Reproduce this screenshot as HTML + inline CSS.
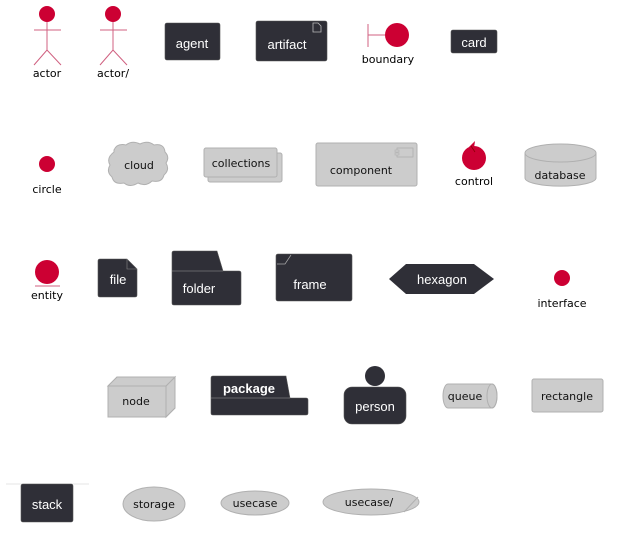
<!DOCTYPE html>
<html><head><meta charset="utf-8"><style>
html,body{margin:0;padding:0;background:#fff;width:619px;height:536px;overflow:hidden}
text{font-family:"DejaVu Sans","Liberation Sans",sans-serif}
.l{font-size:11px;fill:#000;text-anchor:middle}
.w{font-size:13px;fill:#fff;text-anchor:middle;font-family:"Liberation Sans",sans-serif}
.b{font-size:11px;fill:#111;text-anchor:middle}
.d{fill:#2f2f37;stroke:#555;stroke-width:0.6}
.g{fill:#cccccc;stroke:#b0b0b0;stroke-width:1}
.r{fill:#cc0033}
</style></head><body>
<svg width="619" height="536" xmlns="http://www.w3.org/2000/svg">
<!-- actors -->
<g stroke="#d06080" stroke-width="1" fill="none">
<line x1="47" y1="22" x2="47" y2="50"/><line x1="34" y1="30" x2="61" y2="30"/><polyline points="34,65 47,50 61,65"/>
<line x1="113" y1="22" x2="113" y2="50"/><line x1="100" y1="30" x2="127" y2="30"/><polyline points="100,65 113,50 127,65"/>
</g>
<circle class="r" cx="47" cy="14" r="8"/><circle class="r" cx="113" cy="14" r="8"/>
<text class="l" x="47" y="77">actor</text><text class="l" x="113" y="77">actor/</text>
<!-- agent -->
<rect class="d" x="165" y="23" width="55" height="37" rx="2"/><text class="w" x="192" y="48">agent</text>
<!-- artifact -->
<rect class="d" x="256" y="21" width="71" height="40" rx="2"/><text class="w" x="287" y="49">artifact</text>
<path d="M313,23 h5 l3,3 v6 h-8 z" fill="none" stroke="#bbb" stroke-width="0.8"/>
<!-- boundary -->
<line x1="368" y1="24" x2="368" y2="47" stroke="#d06080"/><line x1="368" y1="35" x2="385" y2="35" stroke="#d06080"/>
<circle class="r" cx="397" cy="35" r="12"/><text class="l" x="388" y="63">boundary</text>
<!-- card -->
<rect class="d" x="451" y="30" width="46" height="23" rx="2"/><text class="w" x="474" y="47">card</text>
<!-- circle -->
<circle class="r" cx="47" cy="164" r="8"/><text class="l" x="47" y="193">circle</text>
<!-- cloud -->
<path class="g" d="M114,150 q3,-7 12,-5 q6,-5 14,-1 q8,-4 14,1 q10,-2 11,7 q5,5 1,11 q4,7 -2,12 q-2,8 -12,6 q-6,6 -14,2 q-8,5 -14,0 q-10,2 -12,-6 q-6,-5 -2,-12 q-4,-7 4,-13z"/>
<text class="b" x="139" y="169">cloud</text>
<!-- collections -->
<rect class="g" x="208" y="153" width="74" height="29" rx="2"/><rect class="g" x="204" y="148" width="73" height="29" rx="2"/>
<text class="b" x="241" y="167">collections</text>
<!-- component -->
<rect class="g" x="316" y="143" width="101" height="43" rx="2"/>
<rect x="397" y="148" width="16" height="9" fill="none" stroke="#b0b0b0" stroke-width="0.8"/>
<rect x="395" y="150" width="4" height="2" fill="#ccc" stroke="#b0b0b0" stroke-width="0.6"/><rect x="395" y="153" width="4" height="2" fill="#ccc" stroke="#b0b0b0" stroke-width="0.6"/>
<text class="b" x="361" y="174">component</text>
<!-- control -->
<circle class="r" cx="474" cy="158" r="12"/><path d="M469,147 l6,-6 l-1,7 z" fill="#cc0033"/><line x1="471" y1="146" x2="475" y2="152" stroke="#800" stroke-width="0.7"/>
<text class="l" x="474" y="185">control</text>
<!-- database -->
<path class="g" d="M525,153 v25 a35,8 0 0 0 71,0 v-25"/><ellipse class="g" cx="560.5" cy="153" rx="35.5" ry="9"/>
<text class="b" x="560" y="179">database</text>
<!-- entity -->
<circle class="r" cx="47" cy="272" r="12"/><line x1="35" y1="286" x2="60" y2="286" stroke="#d06080"/>
<text class="l" x="47" y="299">entity</text>
<!-- file -->
<path class="d" d="M100,259 h27 l10,10 v26 q0,2 -2,2 h-35 q-2,0 -2,-2 v-34 q0,-2 2,-2z"/>
<path d="M127,259 v10 h10" fill="none" stroke="#888" stroke-width="0.6"/>
<text class="w" x="118" y="284">file</text>
<!-- folder -->
<path class="d" d="M174,251 h43 l6,20 h16 q2,0 2,2 v30 q0,2 -2,2 h-65 q-2,0 -2,-2 v-50 q0,-2 2,-2z"/>
<line x1="172" y1="271" x2="223" y2="271" stroke="#999" stroke-width="0.6"/>
<text class="w" x="199" y="293">folder</text>
<!-- frame -->
<rect class="d" x="276" y="254" width="76" height="47" rx="2"/>
<path d="M277,264 h8 l6,-9" fill="none" stroke="#aaa" stroke-width="0.7"/>
<text class="w" x="310" y="289">frame</text>
<!-- hexagon -->
<polygon points="389,279 406,264 474,264 494,279 474,294 406,294" fill="#2f2f37"/>
<text class="w" x="442" y="284">hexagon</text>
<!-- interface -->
<circle class="r" cx="562" cy="278" r="8"/><text class="l" x="562" y="307">interface</text>
<!-- node -->
<path class="g" d="M108,386 l9,-9 h58 v31 l-9,9 M166,386 l9,-9"/>
<rect class="g" x="108" y="386" width="58" height="31"/>
<polygon points="166,386 175,377 175,408 166,417" fill="#ccc" stroke="#b0b0b0"/>
<polygon points="108,386 117,377 175,377 166,386" fill="#ccc" stroke="#b0b0b0"/>
<text class="b" x="136" y="405">node</text>
<!-- package -->
<path class="d" d="M213,376 h73 l4,22 h16 q2,0 2,2 v13 q0,2 -2,2 h-93 q-2,0 -2,-2 v-35 q0,-2 2,-2z"/>
<line x1="211" y1="398" x2="290" y2="398" stroke="#999" stroke-width="0.6"/>
<text x="249" y="393" style="font:bold 13px 'Liberation Sans',sans-serif;fill:#fff;text-anchor:middle">package</text>
<!-- person -->
<circle cx="375" cy="376" r="10" fill="#2f2f37"/>
<rect class="d" x="344" y="387" width="62" height="37" rx="8"/><text class="w" x="375" y="411">person</text>
<!-- queue -->
<path class="g" d="M448,384 h44 a5,12 0 0 1 0,24 h-44 a5,12 0 0 1 0,-24z"/>
<ellipse cx="492" cy="396" rx="5" ry="12" fill="none" stroke="#b0b0b0"/>
<text class="b" x="465" y="400">queue</text>
<!-- rectangle -->
<rect class="g" x="532" y="379" width="71" height="33" rx="2"/><text class="b" x="567" y="400">rectangle</text>
<!-- stack -->
<line x1="6" y1="484" x2="89" y2="484" stroke="#e6e6e6"/>
<rect class="d" x="21" y="484" width="52" height="38" rx="2"/><text class="w" x="47" y="509">stack</text>
<!-- storage -->
<ellipse class="g" cx="154" cy="504" rx="31" ry="17"/><text class="b" x="154" y="508">storage</text>
<!-- usecase -->
<ellipse class="g" cx="255" cy="503" rx="34" ry="12"/><text class="b" x="255" y="507">usecase</text>
<!-- usecase/ -->
<ellipse class="g" cx="371" cy="502" rx="48" ry="13"/><line x1="404" y1="512" x2="418" y2="497" stroke="#b0b0b0"/>
<text class="b" x="369" y="506">usecase/</text>
</svg>
</body></html>
